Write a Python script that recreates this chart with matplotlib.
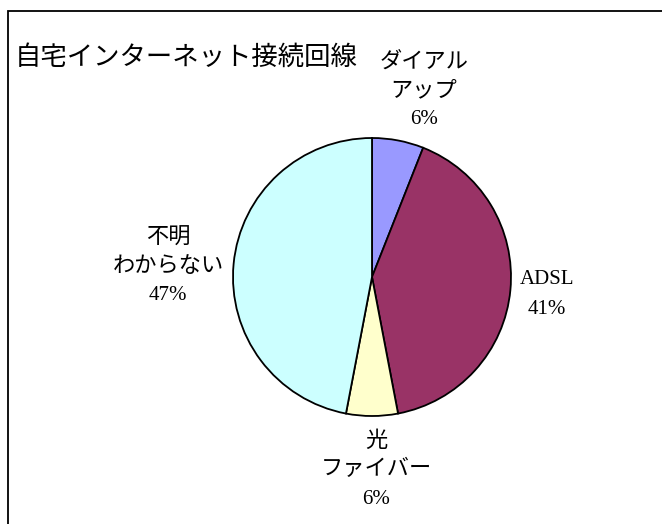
import matplotlib
matplotlib.use("Agg")
import matplotlib.pyplot as plt
from matplotlib.patches import Rectangle

# Home internet connection types
title = "自宅インターネット接続回線"
categories = ["ダイアル\nアップ", "ADSL", "光\nファイバー", "不明\nわからない"]
shares = [6, 41, 6, 47]
colors = ["#9999FF", "#993366", "#FFFFCC", "#CCFFFF"]

W, H = 662, 524
fig = plt.figure(figsize=(W / 100, H / 100), dpi=100)
ax = fig.add_axes([0, 0, 1, 1])

JP = ["Noto Sans CJK JP", "DejaVu Sans"]
SERIF = ["Liberation Serif", "DejaVu Serif"]

# frame around the chart area
ax.add_patch(Rectangle((8, -20), W + 20, H - 11 + 20, fill=False,
                       edgecolor="black", linewidth=1.3, zorder=0))

cx, cy, r = 372, H - 277, 139
ax.pie(shares, colors=colors, startangle=90, counterclock=False,
       center=(cx, cy), radius=r, frame=True,
       wedgeprops=dict(edgecolor="black", linewidth=1.3))
ax.set_xlim(0, W)
ax.set_ylim(0, H)
ax.axis("off")

ax.text(15, H - 57, title, fontsize=19, family=JP, ha="left", va="center")

# label anchors (x, y of first line) in pixels from top-left
anchors = [(424, 61), (547, 280), (376, 440), (168, 237)]
line_gap = 29
for (lx, ly), name, val in zip(anchors, categories, shares):
    lines = name.split("\n")
    for i, ln in enumerate(lines):
        fam = SERIF if ln.isascii() else JP
        size = 15 if ln.isascii() else 16
        ax.text(lx, H - (ly + i * line_gap), ln, fontsize=size, family=fam,
                ha="center", va="center")
    ax.text(lx, H - (ly + len(lines) * line_gap + 1), f"{val}%", fontsize=15,
            family=SERIF, ha="center", va="center")

fig.savefig("out.png", dpi=100, facecolor="white")
